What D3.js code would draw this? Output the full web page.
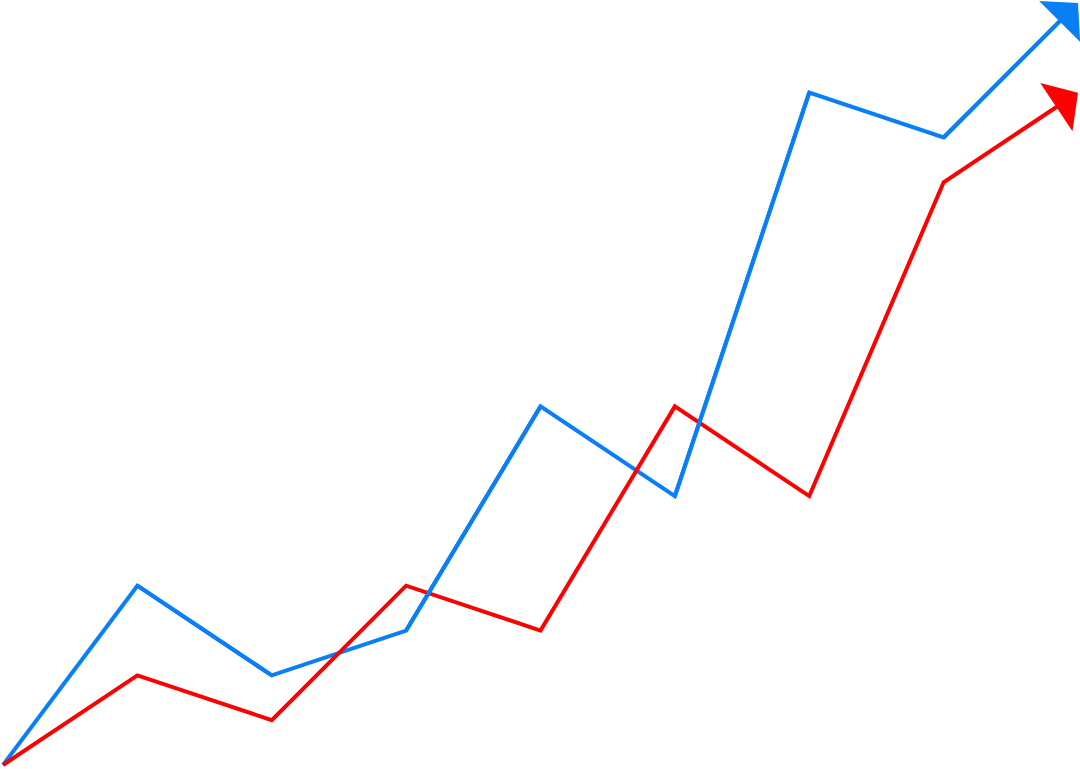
<!DOCTYPE html>
<html>
<head>
<meta charset="utf-8">
<script src="https://cdn.jsdelivr.net/npm/d3@7"></script>
<style>
  html, body { margin: 0; padding: 0; background: #fff; }
  svg { display: block; }
</style>
</head>
<body>
<div id="chart"></div>
<script>
// x positions (steps) and the two series, last value = arrow tip
const steps = [0, 1, 2, 3, 4, 5, 6, 7, 8]
const blueValues = [0, 4, 2, 3, 8, 6, 15, 14, 17]
const redValues = [0, 2, 1, 4, 3, 8, 6, 13, 15]

const W = 1080, H = 769
const cfg = {
    strokeWidth: 4,
    headLength: 26,   // base of arrowhead to tip
    headHalf: 29,     // half width of arrowhead base
    blue: '#0a7ff5',
    red: '#ff0000'
}

const svg = d3.select('#chart')
    .append('svg')
    .attr('width', W)
    .attr('height', H)

const x = d3.scaleLinear().domain([0, 8]).range([3, 1078])
const y = d3.scaleLinear().domain([0, 17]).range([765, 3])

const series = [
    { name: 'blue', values: blueValues, color: cfg.blue },
    { name: 'red', values: redValues, color: cfg.red }
]

// pixel points, last one pulled back to the base of the arrowhead
series.forEach(s => {
    const pts = steps.map((d, i) => [x(d), y(s.values[i])])
    const tip = pts[pts.length - 1]
    const prev = pts[pts.length - 2]
    const len = Math.hypot(tip[0] - prev[0], tip[1] - prev[1])
    const ux = (tip[0] - prev[0]) / len, uy = (tip[1] - prev[1]) / len
    const base = [tip[0] - cfg.headLength * ux, tip[1] - cfg.headLength * uy]
    s.tip = tip
    s.head = [
        [base[0] + cfg.headHalf * uy, base[1] - cfg.headHalf * ux],
        tip,
        [base[0] - cfg.headHalf * uy, base[1] + cfg.headHalf * ux]
    ]
    // stop the stroke a little inside the head
    s.pts = pts.slice(0, -1).concat([[tip[0] - 20 * ux, tip[1] - 20 * uy]])
})

const line = d3.line()

const g = svg.append('g')

series.forEach(s => {
    g.append('path')
        .attr('d', line(s.pts))
        .attr('fill', 'none')
        .attr('stroke', s.color)
        .attr('stroke-width', cfg.strokeWidth)
        .attr('stroke-linejoin', 'miter')
    g.append('path')
        .attr('d', line(s.head) + 'Z')
        .attr('fill', s.color)
})

// blue sits on top of red on the odd segments
const blue = series[0]
blue.pts.forEach((p, i) => {
    if (i % 2 === 1 && i < blue.pts.length - 1) {
        g.append('path')
            .attr('d', line([p, blue.pts[i + 1]]))
            .attr('fill', 'none')
            .attr('stroke', blue.color)
            .attr('stroke-width', cfg.strokeWidth)
    }
})
</script>
</body>
</html>
